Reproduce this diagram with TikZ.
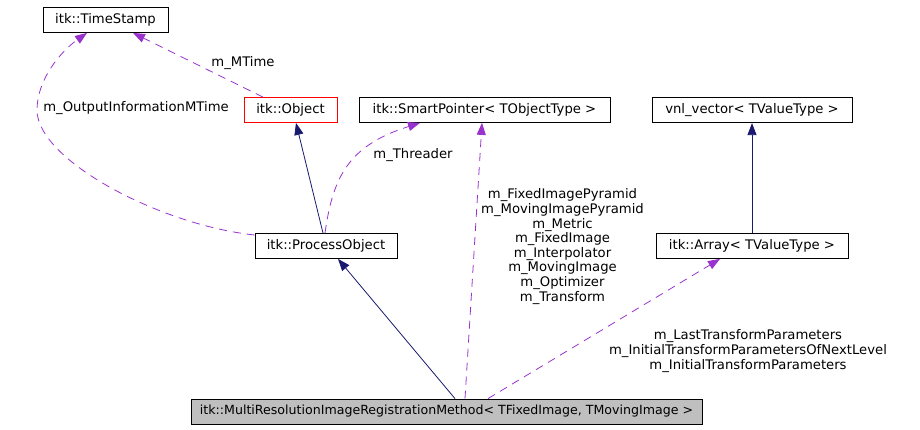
\documentclass[tikz,border=0pt]{standalone}
\usepackage{fontspec}
\setmainfont{DejaVu Sans}
\usetikzlibrary{positioning, arrows.meta}
\definecolor{usage}{RGB}{154,50,205}
\definecolor{inherit}{RGB}{25,25,112}
\definecolor{focus}{RGB}{191,191,191}

\begin{document}
\begin{tikzpicture}[
    x=0.75pt, y=-0.75pt,
    cls/.style={draw, line width=0.6pt, minimum height=18.75pt, inner sep=0pt,
                font=\fontsize{9.9}{11}\selectfont},
    lbl/.style={align=center, inner sep=0pt,
                font=\fontsize{9.9}{10.95}\selectfont},
    inh/.style={-{Triangle[length=9pt, width=6.75pt, fill=inherit]},
                draw=inherit, line width=0.6pt},
    use/.style={-{Triangle[length=9pt, width=6.75pt, fill=usage]},
                draw=usage, line width=0.6pt, dash pattern=on 6pt off 4.5pt},
]
\useasboundingbox (0,0) rectangle (920,429);

% ══════════════════════════════════════
%  CLASSES
% ══════════════════════════════════════

\node[cls, minimum width=93.75pt] (timestamp) at (105.5,20) {itk::TimeStamp};
\node[cls, draw=red, minimum width=69.75pt] (object) at (290.5,110) {itk::Object};
\node[cls, minimum width=188.25pt] (smartptr) at (484.5,110)
    {itk::SmartPointer< TObjectType >};
\node[cls, minimum width=106.5pt] (procobj) at (326,246) {itk::ProcessObject};
\node[cls, minimum width=144pt] (array) at (752,246) {itk::Array< TValueType >};
\node[cls, minimum width=150pt, above=82.5pt of array] (vnlvec)
    {vnl\_vector< TValueType >};

% the documented class
\node[cls, fill=focus, minimum width=383.25pt, font=\fontsize{9.45}{11}\selectfont]
    (mrreg) at (446.5,411.5)
    {itk::MultiResolutionImageRegistrationMethod< TFixedImage, TMovingImage >};

% ══════════════════════════════════════
%  INHERITANCE
% ══════════════════════════════════════

\draw[inh] (procobj.north -| 323,0) -- (object.south -| 296,0);
\draw[inh] (mrreg.north -| 455,0) -- (procobj.south -| 338,0);
\draw[inh] (array) -- (vnlvec);

% ══════════════════════════════════════
%  MEMBERS
% ══════════════════════════════════════

\draw[use] (object.north -| 263,0) -- (timestamp.south -| 133,0);
\node[lbl] at (243,63) {m\_MTime};

\draw[use] (procobj.west |- 0,235) .. controls (160,225) and (37,160) .. (37,110)
    .. controls (37,80) and (60,52) .. (timestamp.south -| 87,0);
\node[lbl] at (136,108) {m\_OutputInformationMTime};

\draw[use] (procobj.north -| 325,0) .. controls (333,175) and (350,145)
    .. (smartptr.south -| 420,0);
\node[lbl] at (413,155) {m\_Threader};

\draw[use] (mrreg.north -| 465,0) -- (smartptr.south -| 482,0);
\node[lbl, anchor=north] at (562.5,188.5) {m\_FixedImagePyramid\\m\_MovingImagePyramid\\
    m\_Metric\\m\_FixedImage\\m\_Interpolator\\m\_MovingImage\\m\_Optimizer\\m\_Transform};

\draw[use] (mrreg.north -| 488,0) -- (array.south -| 720,0);
\node[lbl, anchor=north] at (748,329.5) {m\_LastTransformParameters\\
    m\_InitialTransformParametersOfNextLevel\\m\_InitialTransformParameters};

\end{tikzpicture}
\end{document}
